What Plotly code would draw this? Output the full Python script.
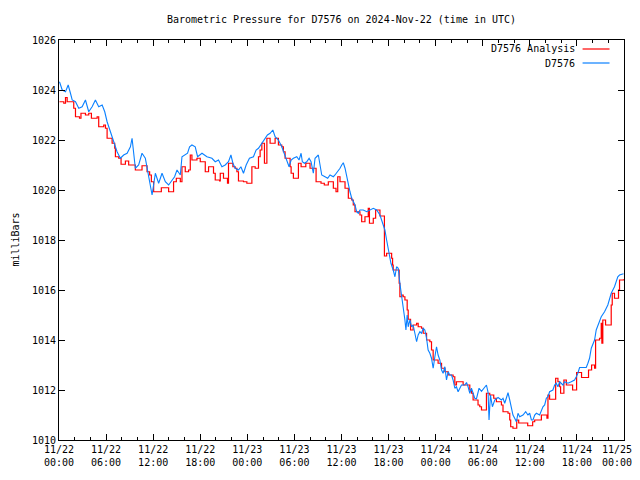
import pandas as pd
import plotly.graph_objects as go

start = pd.Timestamp("2024-11-22 00:00")

# D7576 Analysis (red, stepped) : hours since start, millibars
analysis_hours = [
    0.06, 0.61, 0.83, 1.04, 1.88, 2.10, 2.61, 2.80, 3.37, 3.79,
    4.13, 4.86, 5.06, 5.70, 5.92, 6.13, 6.77, 7.10, 7.19, 7.61,
    7.91, 8.46, 8.88, 9.73, 10.58, 11.22, 11.55, 11.77, 12.06, 13.04,
    13.97, 14.60, 14.95, 15.46, 15.67, 16.09, 16.51, 16.73, 16.94, 17.58,
    18.00, 18.64, 19.06, 19.69, 19.91, 20.46, 20.55, 20.96, 21.47, 21.60,
    22.16, 22.45, 22.67, 22.87, 23.51, 23.94, 24.58, 25.00, 25.42, 25.63,
    25.85, 26.18, 26.49, 26.90, 27.54, 27.96, 28.39, 28.60, 28.81, 29.45,
    29.58, 29.87, 30.51, 30.85, 31.45, 31.99, 32.76, 33.39, 33.81, 34.32,
    34.96, 35.30, 35.52, 35.81, 36.45, 36.87, 37.30, 37.50, 37.72, 38.35,
    38.57, 38.99, 39.41, 39.56, 40.05, 40.35, 40.90, 41.47, 41.75, 42.39,
    42.51, 42.59, 43.35, 43.44, 43.66, 43.86, 44.08, 44.37, 44.50, 44.80,
    45.13, 45.57, 45.77, 46.20, 46.41, 46.84, 47.26, 47.47, 47.68, 48.31,
    48.75, 49.17, 49.59, 50.22, 50.44, 50.65, 51.50, 52.35, 52.56, 52.77,
    53.40, 53.62, 53.84, 54.47, 54.89, 55.40, 55.74, 56.38, 56.58, 57.22,
    57.44, 57.56, 57.85, 58.33, 58.58, 59.73, 60.36, 60.62, 61.47, 62.18,
    62.31, 62.52, 63.29, 63.58, 63.80, 63.92, 64.34, 64.65, 65.45, 65.96,
    66.59, 67.48, 67.87, 68.25, 68.38, 68.88, 69.10, 69.18, 69.30, 69.65,
    70.37, 70.50, 70.79, 71.30, 71.43, 71.94,
]
analysis_mb = [
    1023.53, 1023.47, 1023.7, 1023.53, 1023.27, 1022.93, 1022.87, 1023.07, 1023.0, 1023.07,
    1022.87, 1022.93, 1022.53, 1022.6, 1022.47, 1022.07, 1021.87, 1021.67, 1021.33, 1021.27,
    1021.03, 1021.16, 1021.0, 1020.8, 1020.97, 1020.73, 1020.6, 1020.33, 1019.93, 1020.09,
    1019.93, 1020.33, 1020.47, 1020.33, 1020.93, 1020.73, 1020.8, 1021.4, 1021.2, 1021.27,
    1021.13, 1020.73, 1020.93, 1020.67, 1020.4, 1020.36, 1020.67, 1020.47, 1020.27, 1021.07,
    1020.93, 1020.87, 1020.73, 1020.36, 1020.33, 1020.27, 1020.93, 1020.87, 1021.33, 1021.6,
    1021.87, 1021.07, 1022.07, 1021.87, 1022.07, 1021.8, 1021.73, 1021.53, 1021.27, 1020.93,
    1020.67, 1020.47, 1021.07, 1020.93, 1021.07, 1020.87, 1020.33, 1020.27, 1020.2, 1020.33,
    1020.07, 1019.93, 1020.53, 1020.33, 1020.07, 1019.67, 1019.6, 1019.4, 1019.13, 1019.0,
    1018.73, 1018.93, 1019.27, 1018.67, 1018.87, 1019.2, 1018.96, 1017.36, 1017.47, 1017.27,
    1017.0, 1016.8, 1016.27, 1015.73, 1015.8, 1015.73, 1015.6, 1015.2, 1014.83, 1014.4,
    1014.6, 1014.67, 1014.53, 1014.47, 1014.27, 1014.0, 1013.93, 1013.6, 1013.2, 1013.07,
    1012.87, 1012.73, 1012.6, 1012.53, 1012.2, 1012.33, 1012.2, 1012.0, 1011.87, 1011.6,
    1011.4, 1011.33, 1011.2, 1011.87, 1011.8, 1011.67, 1011.53, 1011.4, 1011.13, 1011.07,
    1010.8, 1010.53, 1010.47, 1010.8, 1010.68, 1010.57, 1010.73, 1010.8, 1011.0, 1010.87,
    1011.8, 1011.63, 1012.47, 1012.33, 1012.13, 1011.87, 1012.4, 1012.2, 1012.0, 1012.7,
    1012.5, 1012.8, 1013.0, 1012.87, 1014.0, 1014.07, 1014.67, 1013.87, 1014.8, 1014.6,
    1015.4, 1015.87, 1015.67, 1016.0, 1016.4, 1016.43,
]

# D7576 observations (blue)
obs_hours = [
    0.06, 0.41, 0.83, 1.17, 1.46, 1.68, 2.10, 2.52, 2.95, 3.37,
    3.79, 4.22, 4.64, 5.06, 5.50, 5.83, 6.13, 6.55, 6.97, 7.40,
    7.82, 8.24, 8.68, 9.10, 9.31, 9.52, 9.73, 10.15, 10.58, 11.00,
    11.35, 11.64, 11.86, 12.28, 12.70, 13.13, 13.55, 13.97, 14.40, 14.73,
    15.04, 15.46, 15.67, 16.09, 16.38, 16.64, 16.94, 17.36, 17.66, 18.22,
    18.85, 19.49, 19.91, 20.33, 20.76, 21.18, 21.60, 21.91, 22.16, 22.45,
    22.87, 23.18, 23.51, 23.85, 24.27, 24.78, 25.12, 25.42, 25.72, 25.98,
    26.27, 26.56, 26.90, 27.25, 27.54, 27.96, 28.39, 28.81, 29.16, 29.32,
    29.58, 29.87, 30.30, 30.59, 30.85, 31.01, 31.27, 31.57, 31.87, 32.12,
    32.41, 32.63, 33.05, 33.27, 33.48, 33.90, 34.24, 34.54, 34.96, 35.17,
    35.52, 35.81, 36.03, 36.23, 36.45, 36.66, 36.87, 37.08, 37.30, 37.50,
    37.72, 37.93, 38.14, 38.35, 38.77, 39.21, 39.63, 40.05, 40.48, 40.90,
    41.32, 41.53, 41.75, 42.04, 42.30, 42.59, 42.81, 43.02, 43.23, 43.44,
    43.57, 43.70, 43.86, 44.08, 44.21, 44.37, 44.50, 44.72, 44.93, 45.13,
    45.35, 45.57, 45.77, 45.99, 46.20, 46.41, 46.62, 46.84, 47.04, 47.26,
    47.47, 47.68, 47.90, 48.11, 48.31, 48.53, 48.75, 48.95, 49.17, 49.38,
    49.59, 49.80, 50.02, 50.22, 50.44, 50.65, 50.86, 51.07, 51.29, 51.71,
    51.93, 52.13, 52.35, 52.56, 52.77, 52.98, 53.20, 53.40, 53.53, 53.84,
    54.26, 54.47, 54.68, 54.80, 54.98, 55.23, 55.53, 55.95, 56.38, 56.58,
    56.80, 57.02, 57.22, 57.44, 57.65, 57.85, 58.07, 58.29, 58.49, 58.71,
    59.13, 59.47, 59.76, 59.98, 60.20, 60.40, 60.62, 60.83, 61.25, 61.47,
    61.67, 61.89, 62.10, 62.31, 62.52, 62.94, 63.16, 63.37, 63.58, 63.80,
    64.22, 64.43, 64.85, 65.28, 65.70, 65.92, 66.12, 66.34, 67.19, 67.40,
    67.61, 67.83, 68.03, 68.25, 68.46, 69.10, 69.52, 69.94, 70.37, 70.79,
    71.21, 71.43, 71.94,
]
obs_mb = [
    1024.33, 1024.0, 1023.93, 1024.2, 1023.87, 1023.6, 1023.53, 1023.27, 1023.33, 1023.6,
    1023.13, 1023.33, 1023.6, 1023.33, 1023.4, 1023.13, 1022.73, 1022.33, 1021.93, 1021.53,
    1021.27, 1021.4, 1021.47, 1021.73, 1022.07, 1021.4, 1020.87, 1021.0, 1021.47, 1021.27,
    1020.73, 1020.2, 1019.8, 1020.67, 1020.27, 1020.67, 1020.33, 1020.2, 1020.4, 1020.53,
    1020.8, 1020.6, 1021.33, 1021.4, 1021.47, 1021.73, 1021.8, 1021.73, 1021.33, 1021.47,
    1021.33, 1021.27, 1021.13, 1021.2, 1020.93, 1021.0, 1021.13, 1021.4, 1021.07, 1020.87,
    1020.8, 1020.93, 1020.67, 1021.0, 1021.27, 1021.33, 1021.6, 1021.67, 1021.8, 1021.93,
    1022.07, 1022.2, 1022.27, 1022.4, 1022.13, 1022.0, 1021.73, 1021.4, 1021.13, 1020.93,
    1021.2, 1021.27, 1021.33, 1021.2, 1021.47, 1021.13, 1021.07, 1021.13, 1021.27, 1021.13,
    1020.67, 1021.27, 1021.4, 1020.93, 1020.6, 1020.53, 1020.47, 1020.6, 1020.53, 1020.6,
    1020.73, 1020.87, 1021.0, 1021.09, 1020.87, 1020.53, 1020.27, 1019.93, 1019.67, 1019.53,
    1019.4, 1019.13, 1019.07, 1019.2, 1019.2, 1019.13, 1019.2, 1019.27, 1019.2, 1019.0,
    1018.6, 1018.4, 1018.0, 1017.53, 1017.07, 1016.8, 1016.53, 1016.93, 1016.87, 1016.27,
    1016.0, 1015.6, 1015.27, 1014.8, 1014.4, 1015.0, 1014.53, 1014.8, 1014.53, 1014.6,
    1014.27, 1013.93, 1014.2, 1014.33, 1014.27, 1014.47, 1014.4, 1014.07, 1013.6, 1013.47,
    1013.27, 1012.87, 1013.33, 1013.73, 1013.4, 1013.2, 1012.8, 1012.67, 1012.93, 1012.4,
    1012.73, 1012.6, 1012.6, 1012.4, 1012.07, 1012.13, 1011.93, 1012.1, 1012.2, 1012.2,
    1012.3, 1012.13, 1011.87, 1012.07, 1011.9, 1011.67, 1011.65, 1011.93, 1012.07, 1011.95,
    1012.13, 1012.2, 1011.9, 1010.8, 1011.8, 1011.33, 1011.6, 1011.7, 1011.6, 1011.67,
    1011.47, 1011.67, 1011.89, 1011.6, 1011.33, 1011.0, 1010.87, 1010.73, 1011.07, 1010.93,
    1011.0, 1011.13, 1011.0, 1011.07, 1010.8, 1010.8, 1011.0, 1011.07, 1011.0, 1011.2,
    1011.33, 1011.4, 1011.67, 1011.73, 1011.93, 1012.0, 1012.2, 1012.27, 1012.13, 1012.33,
    1012.2, 1012.33, 1012.27, 1012.33, 1012.4, 1012.53, 1012.67, 1012.9, 1012.9, 1013.07,
    1013.27, 1013.67, 1013.8, 1014.0, 1014.4, 1014.93, 1015.13, 1015.4, 1015.87, 1016.13,
    1016.53, 1016.6, 1016.65,
]

# x tick positions (hours since start) and their labels
tick_hours = [0, 6, 12, 18, 24, 30, 36, 42, 48, 54, 60, 66, 72]
tick_dates = ["11/22", "11/22", "11/22", "11/22", "11/23", "11/23", "11/23",
              "11/23", "11/24", "11/24", "11/24", "11/24", "11/25"]
tick_times = ["00:00", "06:00", "12:00", "18:00", "00:00", "06:00", "12:00",
              "18:00", "00:00", "06:00", "12:00", "18:00", "00:00"]

title_text = "Barometric Pressure for D7576 on 2024-Nov-22 (time in UTC)"
y_label = "milliBars"
name_analysis = "D7576 Analysis"
name_obs = "D7576"

x_an = start + pd.to_timedelta(analysis_hours, unit="h")
x_ob = start + pd.to_timedelta(obs_hours, unit="h")
tick_x = list(start + pd.to_timedelta(tick_hours, unit="h"))
tick_text = [f"{d}<br>{t}" for d, t in zip(tick_dates, tick_times)]
last_label = tick_text[-1]
tick_text[-1] = ""   # drawn below as a right-anchored label so it stays in the window

RED = "#ff0000"
BLUE = "#0a80ff"
FONT = "DejaVu Sans Mono"

# the page places the figure 8 px in from the window's top-left corner
FIG_W, FIG_H = 632, 464

fig = go.Figure()
fig.add_trace(go.Scatter(x=x_an, y=analysis_mb, mode="lines", name=name_analysis,
                         line=dict(color=RED, width=1.2, shape="hv")))
fig.add_trace(go.Scatter(x=x_ob, y=obs_mb, mode="lines", name=name_obs,
                         line=dict(color=BLUE, width=1.1)))

fig.update_layout(
    width=FIG_W, height=FIG_H,
    margin=dict(l=50.5, r=FIG_W - 616.5, t=32, b=FIG_H - 432, autoexpand=False),
    paper_bgcolor="white", plot_bgcolor="white",
    showlegend=False,
    font=dict(family=FONT, size=10, color="black"),
    title=dict(text=title_text, x=0.5, xref="paper", xanchor="center",
               y=1 - 11 / FIG_H, yref="container", yanchor="middle",
               font=dict(family=FONT, size=10, color="black")),
)
fig.update_xaxes(
    type="date", automargin=False, ticklabeloverflow="allow",
    range=[start, start + pd.Timedelta(hours=72)],
    tickmode="array", tickvals=tick_x, ticktext=tick_text,
    ticks="inside", ticklen=6, tickcolor="black", tickwidth=1,
    minor=dict(dtick=2 * 3600 * 1000, tick0=start, ticks="inside", ticklen=3,
               tickcolor="black"),
    showline=True, linecolor="black", linewidth=1, mirror="allticks",
    showgrid=False, zeroline=False,
    tickfont=dict(family=FONT, size=10),
)
fig.update_yaxes(
    automargin=False,
    range=[1010, 1026], dtick=2, tick0=1010,
    ticks="inside", ticklen=6, tickcolor="black", tickwidth=1,
    showline=True, linecolor="black", linewidth=1, mirror="allticks",
    showgrid=False, zeroline=False,
    tickfont=dict(family=FONT, size=10),
)

# right-most x tick label
fig.add_annotation(text=last_label, xref="paper", yref="paper",
                   x=(634 - 58.5) / 566, y=(440 - 455.5) / 400, showarrow=False,
                   xanchor="right", yanchor="middle", borderpad=0,
                   font=dict(family=FONT, size=10, color="black"))

# y-axis label
fig.add_annotation(text=y_label, xref="paper", yref="paper",
                   x=(14 - 58.5) / 566, y=0.5, textangle=-90, showarrow=False,
                   xanchor="center", yanchor="middle",
                   font=dict(family=FONT, size=10, color="black"))

# gnuplot-style key (text right-justified, sample to the right)
key_rows = [(name_analysis, RED, (440 - 49) / 400), (name_obs, BLUE, (440 - 63) / 400)]
for label, col, yk in key_rows:
    fig.add_annotation(text=label, xref="paper", yref="paper",
                       x=(577 - 58.5) / 566, y=yk, showarrow=False,
                       xanchor="right", yanchor="middle",
                       font=dict(family=FONT, size=10, color="black"))
    fig.add_shape(type="line", xref="paper", yref="paper",
                  x0=(583 - 58.5) / 566, x1=(610 - 58.5) / 566, y0=yk, y1=yk,
                  line=dict(color=col, width=1.2))

fig.write_html("out.html")
